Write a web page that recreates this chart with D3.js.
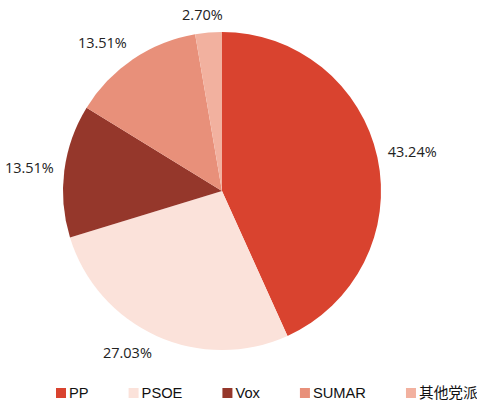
<!DOCTYPE html>
<html>
<head>
<meta charset="utf-8">
<script src="https://cdn.jsdelivr.net/npm/d3@7"></script>
<style>
  body { margin: 0; background: #fff; }
  svg { display: block; }
</style>
</head>
<body>
<div id="chart"></div>
<script>
const parties = ["PP", "PSOE", "Vox", "SUMAR", "其他党派"];
const seats = [16, 10, 5, 5, 1];
const colors = ["#d9432f", "#fbe2da", "#95372b", "#e8907a", "#f2b19f"];

const width = 477;
const height = 405;
const cx = 222, cy = 191, r = 159;

const svg = d3.select("#chart")
    .append("svg")
    .attr("width", width)
    .attr("height", height);

const total = d3.sum(seats);
const data = parties.map((p, i) => ({ party: p, value: seats[i], color: colors[i] }));

const pie = d3.pie()
    .value(d => d.value)
    .sort(null);

const arc = d3.arc().innerRadius(0).outerRadius(r);

const g = svg.append("g").attr("transform", `translate(${cx},${cy})`);

const arcs = pie(data);

g.selectAll("path")
    .data(arcs)
    .enter()
    .append("path")
    .attr("d", arc)
    .attr("fill", d => d.data.color);

// outside-end labels: anchor just past the rim, then push the text box outwards
const clamp = v => Math.max(-1, Math.min(1, v));
function labelPos(d) {
    const a = (d.startAngle + d.endAngle) / 2;
    const dx = Math.sin(a), dy = -Math.cos(a);
    const px = dx * (r + 10), py = dy * (r + 10);
    return [px + clamp(dx * 2.5) * 25, py + clamp(dy * 2.5) * 8];
}

g.selectAll("text")
    .data(arcs)
    .enter()
    .append("text")
    .attr("x", d => labelPos(d)[0])
    .attr("y", d => labelPos(d)[1])
    .attr("text-anchor", "middle")
    .attr("dominant-baseline", "central")
    .style("font-family", "'Open Sans', sans-serif")
    .style("font-size", "14.5px")
    .style("fill", "#222")
    .text(d => (d.data.value / total * 100).toFixed(2) + "%");

// legend
const legend = svg.append("g").attr("transform", "translate(56,393)");
let lx = 0;
data.forEach(d => {
    const item = legend.append("g").attr("transform", `translate(${lx},0)`);
    item.append("rect")
        .attr("x", 0)
        .attr("y", -5)
        .attr("width", 10)
        .attr("height", 10)
        .attr("fill", d.color);
    const t = item.append("text")
        .attr("x", 13)
        .attr("y", 0)
        .attr("dominant-baseline", "central")
        .style("font-family", "'Liberation Sans', Arial, 'Noto Sans CJK SC', sans-serif")
        .style("font-size", "14.7px")
        .style("fill", "#111")
        .text(d.party);
    lx += 13 + t.node().getComputedTextLength() + 40;
});
</script>
</body>
</html>
